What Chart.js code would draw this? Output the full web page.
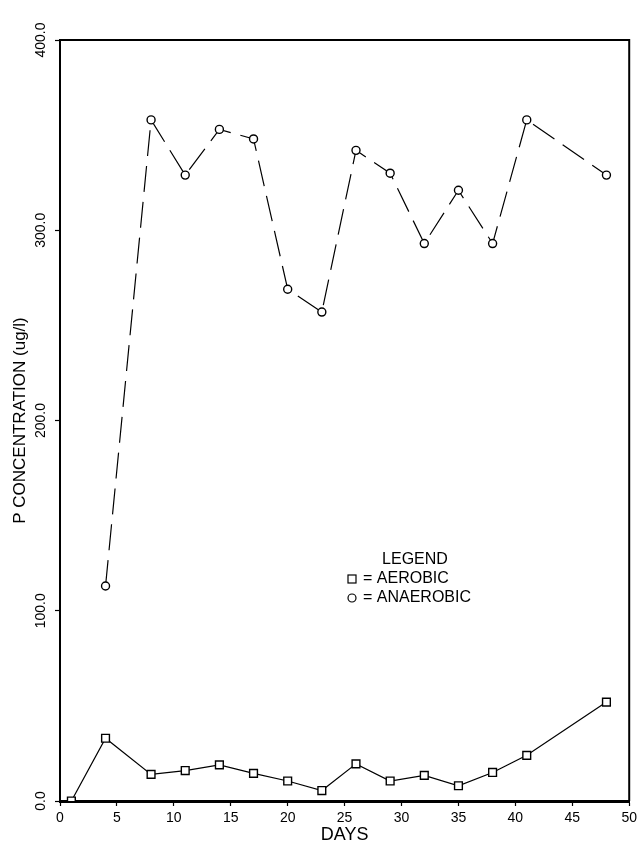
<!DOCTYPE html>
<html>
<head>
<meta charset="utf-8">
<script src="https://cdn.jsdelivr.net/npm/chart.js@4/dist/chart.umd.min.js"></script>
<style>
  html, body { margin: 0; padding: 0; background: #fff; }
</style>
</head>
<body>
<canvas id="myChart" width="641" height="846"></canvas>
<script>
// days sampled
const aerobicDays = [1, 4, 8, 11, 14, 17, 20, 23, 26, 29, 32, 35, 38, 41, 48];
const aerobicValues = [0, 33, 14, 16, 19, 14.5, 10.5, 5.5, 19.5, 10.5, 13.5, 8, 15, 24, 52];

const anaerobicDays = [4, 8, 11, 14, 17, 20, 23, 26, 29, 32, 35, 38, 41, 48];
const anaerobicValues = [113, 358, 329, 353, 348, 269, 257, 342, 330, 293, 321, 293, 358, 329];

const xTicks = [0, 5, 10, 15, 20, 25, 30, 35, 40, 45, 50];
const yTicks = [0, 100, 200, 300, 400];

const legendTitle = 'LEGEND';
const legendLabels = ['= AEROBIC', '= ANAEROBIC'];

const FONT = '"Liberation Sans", Arial, sans-serif';

function toPoints(xs, ys) {
    return xs.map((x, i) => ({x: x, y: ys[i]}));
}

// frame + hand-made legend
const framePlugin = {
    id: 'frame',
    afterDraw(chart) {
        const ctx = chart.ctx;
        const a = chart.chartArea;
        ctx.save();
        ctx.strokeStyle = '#000';
        ctx.lineWidth = 2;
        ctx.beginPath();
        ctx.moveTo(a.left, a.top);
        ctx.lineTo(a.right, a.top);
        ctx.lineTo(a.right, a.bottom);
        ctx.stroke();

        // legend block
        const cx = a.left + 355;
        const top = a.top + 520;
        ctx.fillStyle = '#000';
        ctx.font = '16px ' + FONT;
        ctx.textBaseline = 'middle';
        ctx.textAlign = 'center';
        ctx.fillText(legendTitle, cx, top);
        ctx.textAlign = 'left';
        ctx.lineWidth = 1.2;
        // square
        ctx.strokeRect(a.left + 288, top + 15, 8, 8);
        ctx.fillText(legendLabels[0], a.left + 303, top + 19);
        // circle
        ctx.beginPath();
        ctx.arc(a.left + 292, top + 38, 4, 0, Math.PI * 2);
        ctx.stroke();
        ctx.fillText(legendLabels[1], a.left + 303, top + 38);
        ctx.restore();
    }
};

new Chart(document.getElementById('myChart'), {
    type: 'line',
    data: {
        datasets: [
            {
                label: 'AEROBIC',
                data: toPoints(aerobicDays, aerobicValues),
                borderColor: '#000',
                borderWidth: 1.2,
                backgroundColor: '#fff',
                pointStyle: 'rect',
                pointRadius: 5.5,
                pointBorderWidth: 1.4,
                pointBorderColor: '#000',
                pointBackgroundColor: '#fff',
                tension: 0
            },
            {
                label: 'ANAEROBIC',
                data: toPoints(anaerobicDays, anaerobicValues),
                borderColor: '#000',
                borderWidth: 1.2,
                borderDash: [26, 10],
                backgroundColor: '#fff',
                pointStyle: 'circle',
                pointRadius: 4,
                pointBorderWidth: 1.4,
                pointBorderColor: '#000',
                pointBackgroundColor: '#fff',
                tension: 0
            }
        ]
    },
    options: {
        responsive: false,
        animation: false,
        devicePixelRatio: 1,
        layout: {
            padding: {top: 40, right: 11, left: 0, bottom: 0}
        },
        plugins: {
            legend: {display: false},
            tooltip: {enabled: false}
        },
        scales: {
            x: {
                type: 'linear',
                min: 0,
                max: 50,
                afterBuildTicks: (scale) => {
                    scale.ticks = xTicks.map(v => ({value: v}));
                },
                afterFit: (scale) => {
                    scale.height = 45;
                },
                grid: {
                    drawOnChartArea: false,
                    drawTicks: true,
                    tickLength: 5,
                    tickWidth: 1.2,
                    tickColor: '#000'
                },
                border: {color: '#000', width: 3},
                ticks: {
                    color: '#000',
                    font: {family: FONT, size: 14},
                    padding: 4,
                    maxRotation: 0
                },
                title: {
                    display: true,
                    text: 'DAYS',
                    color: '#000',
                    font: {family: FONT, size: 18},
                    padding: {top: 3, bottom: 0}
                }
            },
            y: {
                type: 'linear',
                min: 0,
                max: 400,
                afterBuildTicks: (scale) => {
                    scale.ticks = yTicks.map(v => ({value: v}));
                },
                afterFit: (scale) => {
                    scale.width = 60;
                },
                grid: {
                    drawOnChartArea: false,
                    drawTicks: true,
                    tickLength: 5,
                    tickWidth: 1.2,
                    tickColor: '#000'
                },
                border: {color: '#000', width: 2},
                ticks: {
                    color: '#000',
                    font: {family: FONT, size: 14},
                    padding: -4,
                    crossAlign: 'center',
                    minRotation: 90,
                    maxRotation: 90,
                    callback: (v) => Number(v).toFixed(1)
                },
                title: {
                    display: true,
                    text: 'P CONCENTRATION (ug/l)',
                    color: '#000',
                    font: {family: FONT, size: 17},
                    padding: {top: 10, bottom: 0}
                }
            }
        }
    },
    plugins: [framePlugin]
});
</script>
</body>
</html>
